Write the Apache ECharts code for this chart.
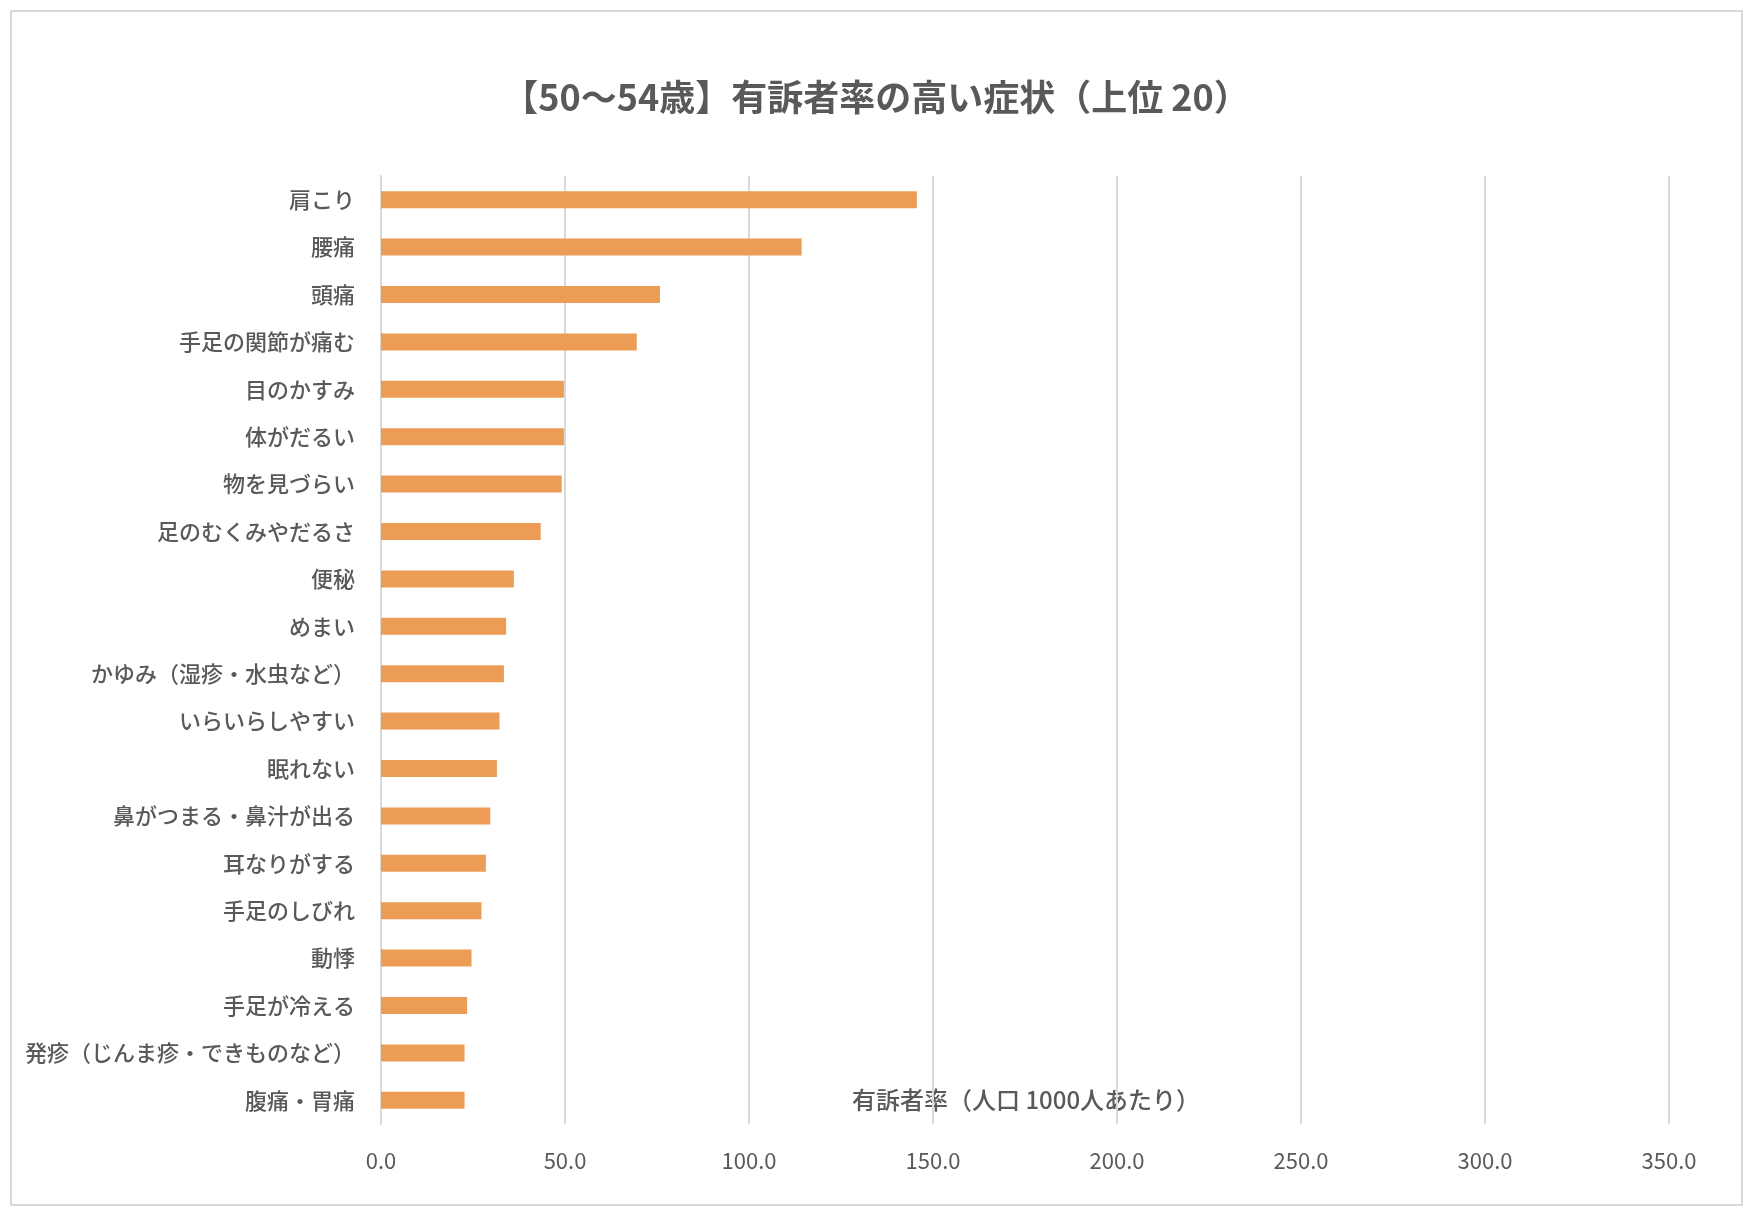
<!DOCTYPE html>
<html><head><meta charset="utf-8">
<script src="https://cdn.jsdelivr.net/npm/echarts@6/dist/echarts.min.js"></script>
<style>html,body{margin:0;padding:0;background:#fff}#c{width:1752px;height:1216px}</style>
</head><body><div id="c"></div>
<script>
const categories = ["肩こり","腰痛","頭痛","手足の関節が痛む","目のかすみ","体がだるい","物を見づらい","足のむくみやだるさ","便秘","めまい","かゆみ（湿疹・水虫など）","いらいらしやすい","眠れない","鼻がつまる・鼻汁が出る","耳なりがする","手足のしびれ","動悸","手足が冷える","発疹（じんま疹・できものなど）","腹痛・胃痛"];
const values = [145.6,114.3,75.8,69.5,49.7,49.7,49.1,43.4,36.1,34.0,33.4,32.2,31.5,29.7,28.5,27.3,24.6,23.4,22.7,22.7];
const chart = echarts.init(document.getElementById('c'));
const font = '"Noto Sans CJK JP","Noto Sans",sans-serif';
chart.setOption({
  backgroundColor:'#fff',
  textStyle:{fontFamily:font},
  title:{text:'【50～54歳】有訴者率の高い症状（上位 20）',left:'center',top:74,textStyle:{fontSize:36,fontWeight:'bold',color:'#595959',fontFamily:font}},
  graphic:[
    {type:'rect',shape:{x:11,y:11,width:1731,height:1194},style:{fill:'none',stroke:'#d9d9d9',lineWidth:2}},
    {type:'text',left:852,top:1088,style:{text:'有訴者率（人口 1000人あたり）',fontSize:24,fontWeight:500,fill:'#595959',fontFamily:font}}
  ],
  grid:{left:381,right:83,top:176,bottom:92},
  xAxis:{type:'value',min:0,max:350,interval:50,axisLine:{show:false},axisTick:{show:false},
    axisLabel:{formatter:v=>v.toFixed(1),fontSize:22,color:'#595959',margin:26},
    splitLine:{lineStyle:{color:'#d9d9d9',width:2}}},
  yAxis:{type:'category',inverse:true,data:categories,axisTick:{show:false},
    axisLine:{lineStyle:{color:'#d9d9d9',width:2}},
    axisLabel:{fontSize:22,fontWeight:500,color:'#595959',margin:26}},
  series:[{type:'bar',data:values,barWidth:17,itemStyle:{color:'#ed9c55'},animation:false}]
});
</script></body></html>
